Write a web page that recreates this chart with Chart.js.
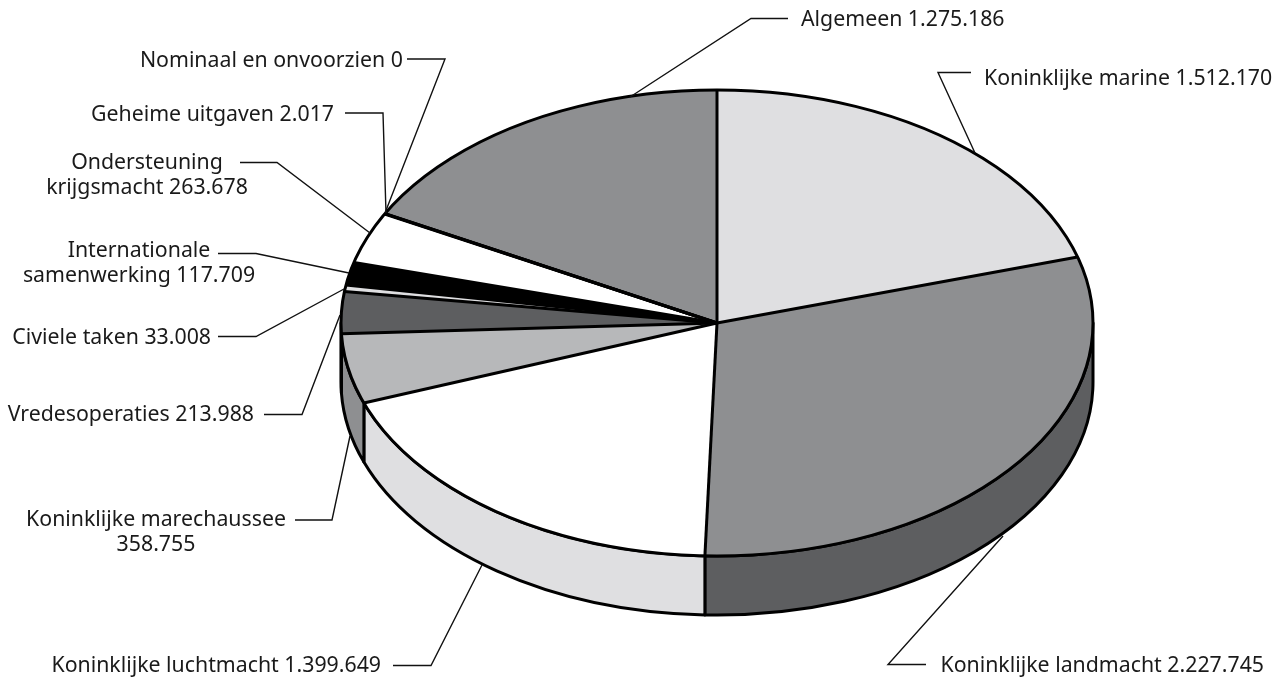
<!DOCTYPE html>
<html>
<head>
<meta charset="utf-8">
<style>html,body{margin:0;padding:0;background:#fff}canvas{display:block}</style>
<script src="https://cdn.jsdelivr.net/npm/chart.js@4/dist/chart.umd.min.js"></script>
</head>
<body>
<canvas id="c" width="1282" height="678"></canvas>
<script>
const categories = ["Koninklijke marine","Koninklijke landmacht","Koninklijke luchtmacht","Koninklijke marechaussee\n","Vredesoperaties","Civiele taken","Internationale\nsamenwerking","Ondersteuning\nkrijgsmacht","Geheime uitgaven","Nominaal en onvoorzien","Algemeen"];
const values = [1512170,2227745,1399649,358755,213988,33008,117709,263678,2017,0,1275186];
const topColors = ["#dfdfe1","#8e8f91","#ffffff","#b7b8ba","#5d5e60","#dfdfe1","#000000","#ffffff","#000000","#000000","#8e8f91"];
const sideColors = ["#dfdfe1","#5d5e60","#dfdfe1","#8e8f91","#8e8f91","#dfdfe1","#000000","#ffffff","#000000","#000000","#8e8f91"];

// layout of the projected pie and its labels (not data)
const CX = 717, CY = 323, RX = 376, RY = 233, DEPTH = 59;
const FONT = '21.3px "Noto Sans"', LINE_H = 25;
const labelPos = [[984,79,"left"],[1264,666,"right"],[381,666,"right"],[156,520,"center"],[254,415,"right"],[211,338,"right"],[139,251,"center"],[147,163,"center"],[334,115,"right"],[403,61,"right"],[801,20,"left"]];
const leaders = [
  [[971,72.5],[938,72.5],[975,153]],
  [[926,664.5],[888,664.5],[1003,536]],
  [[393,665.5],[431,665.5],[482,565]],
  [[295,520],[332,520],[350,436]],
  [[264,414.5],[302,414.5],[340,315]],
  [[218,336.5],[256,336.5],[344,289]],
  [[218,253.5],[256,253.5],[349,273]],
  [[240,162.5],[277,162.5],[370,233]],
  [[345,113],[383,113],[386,213]],
  [[407,59],[445,59],[385,213]],
  [[788,18.5],[751,18.5],[630,97]]
];

const fmt = v => String(v).replace(/\B(?=(\d{3})+(?!\d))/g, ".");

function labelLines(i){
  const name = categories[i], val = fmt(values[i]);
  return (name.endsWith("\n") ? name + val : name + " " + val).split("\n");
}

const pie3d = {
  id: "pie3d",
  beforeDatasetDraw(chart){
    const ctx = chart.ctx, arcs = chart.getDatasetMeta(0).data;
    // side wall, visible for the front half of the ellipse
    ctx.save();
    ctx.lineWidth = 3; ctx.strokeStyle = "#000"; ctx.lineJoin = "round";
    arcs.forEach((a,i)=>{
      const s = Math.max(a.startAngle, 0), e = Math.min(a.endAngle, Math.PI);
      if (e <= s) return;
      ctx.beginPath();
      ctx.ellipse(CX,CY,RX,RY,0,s,e);
      ctx.ellipse(CX,CY+DEPTH,RX,RY,0,e,s,true);
      ctx.closePath();
      ctx.fillStyle = sideColors[i];
      ctx.fill();
      ctx.stroke();
    });
    ctx.restore();
    // squash the round pie into the ellipse for the library's own arcs
    const a0 = arcs[0], k = a0.outerRadius;
    ctx.save();
    ctx.translate(CX,CY);
    ctx.scale(RX/k,RY/k);
    ctx.translate(-a0.x,-a0.y);
  },
  afterDatasetDraw(chart){
    const ctx = chart.ctx, arcs = chart.getDatasetMeta(0).data;
    ctx.restore();
    ctx.save();
    ctx.strokeStyle = "#000"; ctx.lineWidth = 3; ctx.lineJoin = "round"; ctx.lineCap = "butt";
    ctx.beginPath();
    ctx.ellipse(CX,CY,RX,RY,0,0,Math.PI*2);
    ctx.stroke();
    arcs.forEach(a=>{
      ctx.beginPath();
      ctx.moveTo(CX,CY);
      ctx.lineTo(CX+RX*Math.cos(a.startAngle),CY+RY*Math.sin(a.startAngle));
      ctx.stroke();
    });
    ctx.restore();
  },
  afterDraw(chart){
    const ctx = chart.ctx;
    ctx.save();
    ctx.strokeStyle = "#111"; ctx.lineWidth = 1.4; ctx.lineJoin = "miter";
    leaders.forEach(l=>{
      ctx.beginPath();
      l.forEach((p,i)=> i ? ctx.lineTo(p[0],p[1]) : ctx.moveTo(p[0],p[1]));
      ctx.stroke();
    });
    ctx.fillStyle = "#1a1a1a"; ctx.font = FONT; ctx.textBaseline = "middle";
    labelPos.forEach((p,i)=>{
      ctx.textAlign = p[2];
      labelLines(i).forEach((t,j)=> ctx.fillText(t,p[0],p[1]+j*LINE_H));
    });
    ctx.restore();
  }
};

new Chart(document.getElementById("c"),{
  type:"pie",
  data:{labels:categories.map(c=>c.replace("\n"," ").trim()),datasets:[{data:values,backgroundColor:topColors,borderWidth:0}]},
  options:{
    responsive:false,animation:false,
    layout:{padding:{left:394,right:242,top:0,bottom:32}},
    plugins:{legend:{display:false},tooltip:{enabled:false}}
  },
  plugins:[pie3d]
});
</script>
</body>
</html>
